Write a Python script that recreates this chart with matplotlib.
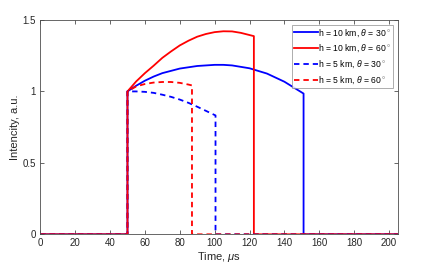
import matplotlib
matplotlib.use("Agg")
import matplotlib.pyplot as plt

# time axis (us) and intensity (a.u.)
t_10_30 = [0, 50, 50, 55, 60, 65, 70, 80, 90, 100, 105, 110, 120, 130, 140, 151, 151, 205]
i_10_30 = [0, 0, 1.0, 1.04, 1.075, 1.104, 1.128, 1.16, 1.178, 1.186, 1.186, 1.182, 1.162, 1.125, 1.068, 0.985, 0, 0]

t_10_60 = [0, 50, 50, 55, 60, 65, 70, 75, 80, 85, 90, 95, 100, 105, 110, 115, 122.5, 122.5, 205]
i_10_60 = [0, 0, 1.0, 1.07, 1.128, 1.18, 1.235, 1.28, 1.322, 1.355, 1.383, 1.402, 1.415, 1.421, 1.42, 1.41, 1.387, 0, 0]

t_5_30 = [0, 50, 50, 55, 60, 65, 70, 75, 80, 85, 90, 95, 100.5, 100.5, 205]
i_5_30 = [0, 0, 1.0, 1.0, 0.997, 0.99, 0.977, 0.962, 0.943, 0.92, 0.893, 0.864, 0.832, 0, 0]

t_5_60 = [0, 50, 50, 55, 60, 65, 70, 75, 80, 85, 87, 87, 205]
i_5_60 = [0, 0, 1.0, 1.035, 1.052, 1.062, 1.066, 1.066, 1.06, 1.048, 1.042, 0, 0]

labels = [r'h = 10 km, $\theta$ = 30$^\circ$',
          r'h = 10 km, $\theta$ = 60$^\circ$',
          r'h = 5 km, $\theta$ = 30$^\circ$',
          r'h = 5 km, $\theta$ = 60$^\circ$']

plt.rcParams['font.family'] = ['Liberation Sans', 'DejaVu Sans']
plt.rcParams['mathtext.fontset'] = 'custom'
plt.rcParams['mathtext.it'] = 'Liberation Sans:italic'
plt.rcParams['mathtext.rm'] = 'Liberation Sans'

fig = plt.figure(figsize=(4.21, 2.69), dpi=100)
ax = fig.add_axes([0.0957, 0.129, 0.849, 0.7967])

lw = 1.3
ax.plot(t_10_30, i_10_30, color='#0000ff', lw=lw, label=labels[0])
ax.plot(t_10_60, i_10_60, color='#ff0000', lw=lw, label=labels[1])
ax.plot(t_5_30, i_5_30, color='#0000ff', lw=lw, ls=(0, (3, 2.2)), label=labels[2])
ax.plot(t_5_60, i_5_60, color='#ff0000', lw=lw, ls=(0, (3, 2.2)), label=labels[3])

ax.set_xlim(0, 205)
ax.set_ylim(0, 1.5)
ax.set_xticks(range(0, 201, 20))
ax.set_yticks([0, 0.5, 1, 1.5])
ax.set_yticklabels(['0', '0.5', '1', '1.5'])

axcol = '#4d4d4d'
for s in ax.spines.values():
    s.set_color(axcol)
    s.set_linewidth(0.6)
ax.tick_params(direction='in', top=True, right=True, length=3, width=0.6,
               color=axcol, labelcolor='#262626', labelsize=7, pad=3)

ax.set_xlabel(r'Time, $\mu$s', fontsize=8, color='#262626', labelpad=1)
ax.set_ylabel('Intencity, a.u.', fontsize=8, color='#262626', labelpad=2)

leg = ax.legend(loc='upper right', fontsize=6.2, handlelength=2.7, handletextpad=0.0,
                borderpad=0.3, labelspacing=0.5, borderaxespad=0.55, fancybox=False)
leg.get_frame().set_edgecolor('#888888')
leg.get_frame().set_linewidth(0.6)

fig.savefig('out.png', dpi=100)
